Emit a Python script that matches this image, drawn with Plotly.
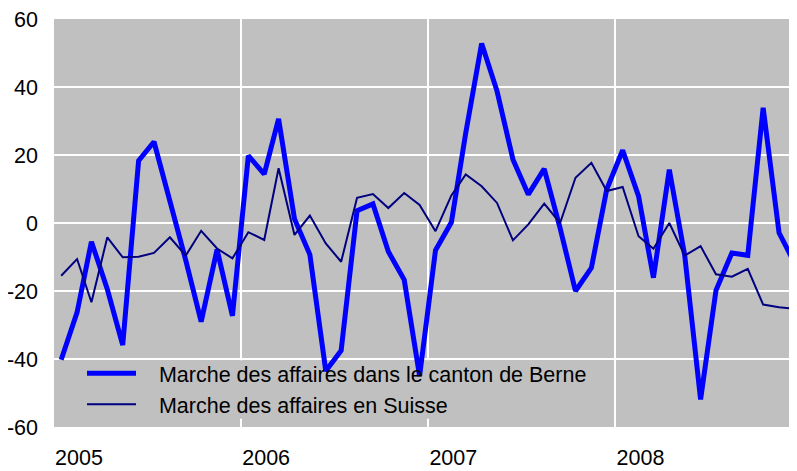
import pandas as pd
import plotly.graph_objects as go

# Monthly observations, Jan 2005 - Dec 2008 (plotted mid-month)
months = pd.date_range("2005-01-01", periods=48, freq="MS") + pd.Timedelta(days=14)

berne = [
    -40.2, -26.3, -5.5, -19.5, -35.9, 18.3, 23.9, 6.6, -11.0, -29.0, -7.8, -27.3,
    19.8, 14.4, 30.6, 1.2, -9.3, -43.5, -37.5, 3.6, 5.6, -8.4, -16.7, -45.0,
    -8.0, 0.2, 26.5, 52.8, 38.8, 18.7, 8.4, 15.9, -1.5, -20.0, -13.2, 9.9,
    21.4, 7.9, -16.1, 15.7, -9.5, -51.9, -19.8, -8.8, -9.5, 33.9, -2.9, -11.7,
]
suisse = [
    -15.5, -10.6, -23.3, -4.2, -10.1, -9.9, -8.8, -4.2, -9.6, -2.3, -7.5, -10.4,
    -2.7, -5.0, 16.1, -3.5, 2.2, -6.0, -11.4, 7.4, 8.5, 4.4, 8.8, 5.3,
    -2.4, 8.1, 14.3, 10.8, 5.9, -5.1, -0.4, 5.7, 0.0, 13.3, 17.7, 9.4,
    10.6, -3.9, -7.6, 0.0, -9.6, -6.8, -15.1, -15.8, -13.5, -24.0, -24.8, -25.2,
]

name_berne = "Marche des affaires dans le canton de Berne"
name_suisse = "Marche des affaires en Suisse"

x_tickvals = ["2005-01-01", "2006-01-01", "2007-01-01", "2008-01-01"]
x_ticktext = ["2005", "2006", "2007", "2008"]
y_tickvals = [-60, -40, -20, 0, 20, 40, 60]
y_ticktext = ["-60", "-40", "-20", "0", "20", "40", "60"]

FONT = "Liberation Sans, Arial, Helvetica, sans-serif"
FS = 21.5
PAD = "\u00a0\u00a0\u00a0"  # gap between legend line sample and label

fig = go.Figure()
fig.add_trace(go.Scatter(
    x=months, y=berne, mode="lines", name=PAD + name_berne, legendgroup="a",
    line=dict(color="#0000ff", width=5),
))
fig.add_trace(go.Scatter(
    x=months, y=suisse, mode="lines", name=PAD + name_suisse, legendgroup="b",
    line=dict(color="#000080", width=2),
))

# legend background panel (drawn above gridlines, below the lines)
fig.add_shape(
    type="rect", xref="x", yref="y",
    x0="2005-01-01", x1="2007-12-28", y0=-57.6, y1=-40.4,
    fillcolor="#c0c0c0", line=dict(width=0), layer="between",
)

# page body has an 8px default margin; size the figure to fill the window
fig.update_layout(
    width=789, height=463,
    margin=dict(l=46, r=0, t=11, b=44, autoexpand=False),
    paper_bgcolor="white",
    plot_bgcolor="#c0c0c0",
    font=dict(family=FONT, size=FS, color="black"),
    showlegend=True,
    legend=dict(
        x=28 / 743, y=(427.3 - 353) / 408, xanchor="left", yanchor="top",
        bgcolor="rgba(0,0,0,0)", borderwidth=0,
        font=dict(family=FONT, size=FS, color="black"),
        tracegroupgap=0, itemwidth=49, traceorder="grouped",
    ),
    xaxis=dict(
        type="date",
        range=["2005-01-01", "2008-12-20"],
        tickvals=x_tickvals, ticktext=x_ticktext,
        showgrid=True, gridcolor="white", gridwidth=2,
        zeroline=False, showline=False, ticks="",
        ticklabelshift=25, ticklabelstandoff=15, automargin=False,
        ticklabeloverflow="allow",
        tickfont=dict(family=FONT, size=FS, color="black"),
    ),
    yaxis=dict(
        range=[-60, 60],
        tickvals=y_tickvals, ticktext=y_ticktext,
        showgrid=True, gridcolor="white", gridwidth=2,
        zeroline=False, showline=False, ticks="",
        ticklabelstandoff=15, automargin=False,
        ticklabeloverflow="allow",
        tickfont=dict(family=FONT, size=FS, color="black"),
    ),
)

fig.write_html("out.html")
